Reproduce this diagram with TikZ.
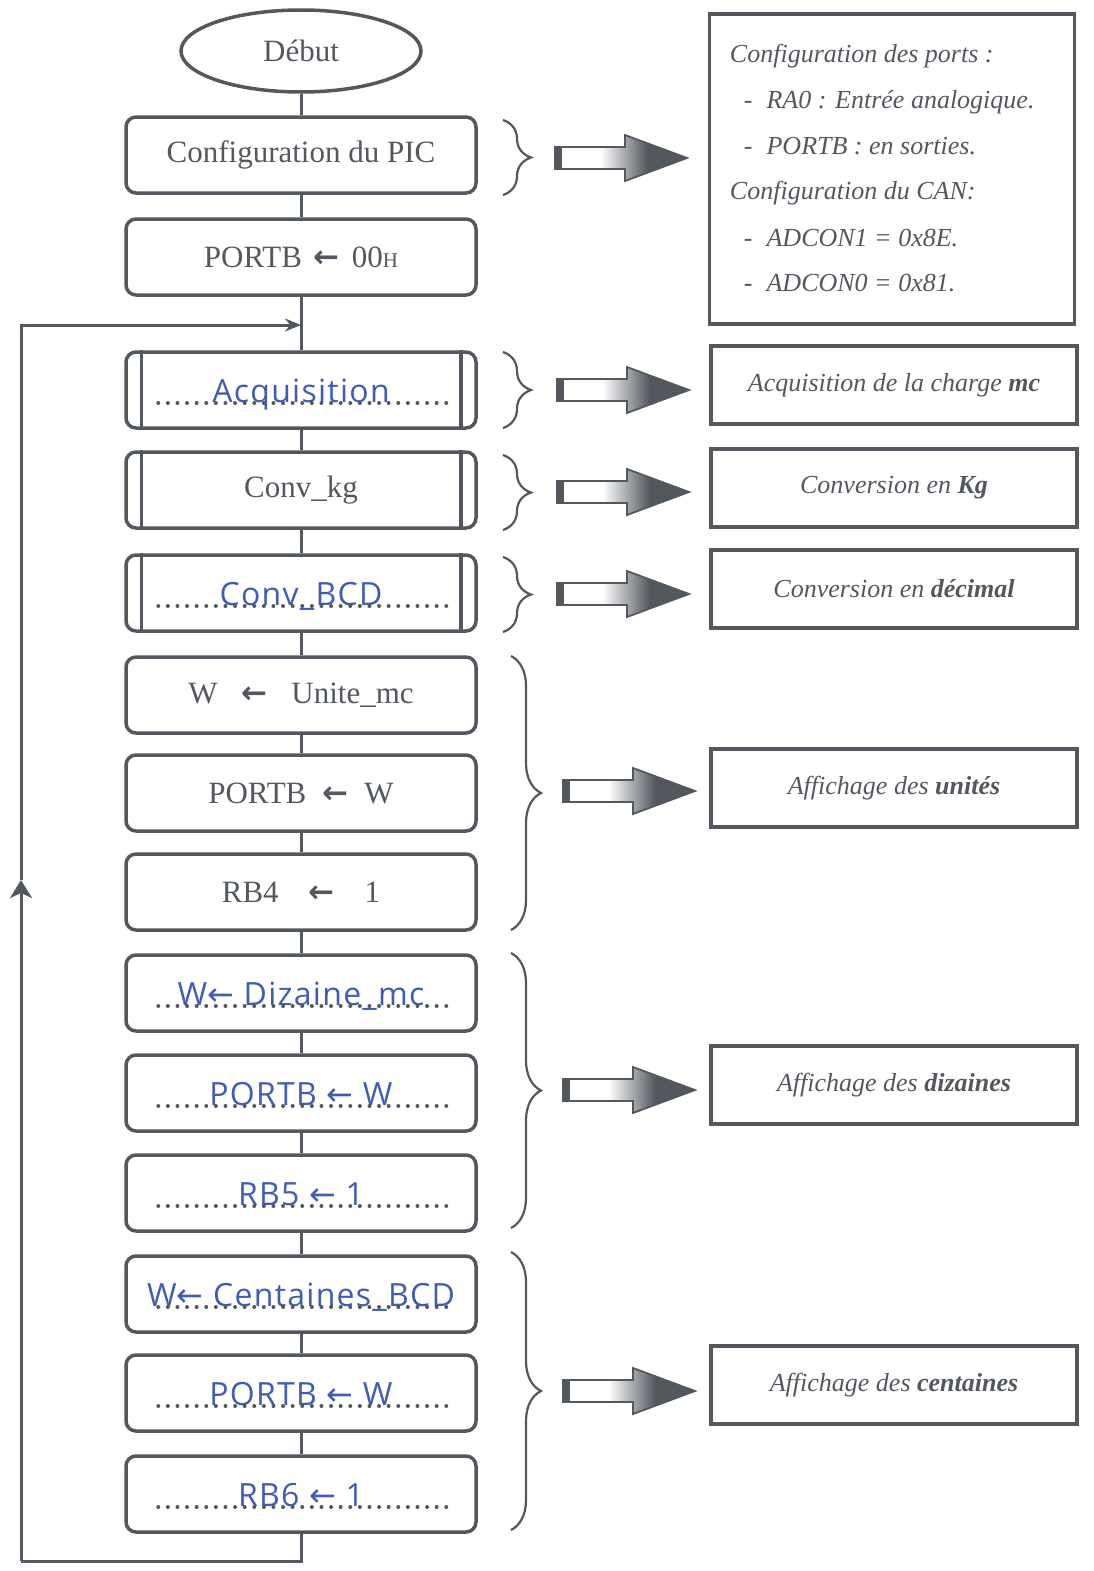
\documentclass[tikz,border=0pt]{standalone}
\usepackage{fontspec}
\setmainfont{Liberation Serif}
\newfontfamily\handfont{Open Sans}[LetterSpace=4]
\newfontfamily\arrowfont{DejaVu Sans}
\usetikzlibrary{arrows.meta,positioning,shapes.geometric,decorations.pathreplacing,calc}

\definecolor{inkgray}{HTML}{53585F}
\definecolor{penblue}{HTML}{3F5DB3}
\colorlet{arrowmid}{inkgray!55}
\pgfdeclarehorizontalshading{arrowshade}{100bp}{color(0bp)=(white); color(42bp)=(white); color(52bp)=(arrowmid); color(60bp)=(inkgray); color(100bp)=(inkgray)}

\newcommand\garr{{\arrowfont\bfseries ←}}
\newcommand\parr{{\arrowfont ←}}

\begin{document}
\begin{tikzpicture}[x=1pt,y=-1pt,
  every node/.style={text=inkgray},
  flow/.style={draw=inkgray, line width=3.5pt, rounded corners=10pt, fill=white,
               minimum width=350pt, minimum height=76pt,
               font=\fontsize{31}{36}\selectfont},
  startend/.style={draw=inkgray, line width=3.5pt, ellipse, fill=white,
                   minimum width=240pt, minimum height=82pt,
                   font=\fontsize{31}{36}\selectfont},
  hand/.style={flow, text=penblue, font=\handfont\fontsize{32}{36}\selectfont,
               text height=24pt, text depth=0pt},
  note/.style={draw=inkgray, line width=3.5pt, minimum width=366pt, minimum height=78pt,
               font=\fontsize{26}{30}\selectfont\itshape},
  conf/.style={anchor=base west, inner sep=0pt, font=\fontsize{26}{30}\selectfont\itshape},
  link/.style={draw=inkgray, line width=3pt},
  dots/.style={draw=inkgray, line width=4pt, line cap=round, dash pattern=on 0pt off 9.6pt},
  grp/.style={draw=inkgray, line width=2.2pt, decorate, decoration={brace, amplitude=#1}},
  fatarrow/.pic={
    \shadedraw[shading=arrowshade, draw=inkgray, line width=1.8pt, line join=miter]
      (0,-11) -- (70,-11) -- (70,-23) -- (132,0) -- (70,23) -- (70,11) -- (0,11) -- cycle;
    \fill[inkgray] (0,-11) rectangle (7,11);
  }
]
  \useasboundingbox[fill=white] (0,0) rectangle (1093,1571);

  % flowchart
  \node[startend] (debut)  at (301,51)   {Début};
  \node[flow]     (config) at (301,155)  {Configuration du PIC};
  \node[flow]     (init)   at (301,257)  {PORTB\hspace{12pt}\garr\hspace{12pt}00{\fontsize{21}{24}\selectfont H}};
  \node[hand]     (acq)    at (301,390)  {Acquisition};
  \node[flow]     (kg)     at (301,490)  {Conv\_kg};
  \node[hand]     (bcd)    at (301,593)  {Conv\_BCD};
  \node[flow]     (u1)     at (301,695)  {W\hspace{24pt}\garr\hspace{24pt}Unite\_mc};
  \node[flow]     (u2)     at (301,793)  {PORTB\hspace{16pt}\garr\hspace{16pt}W};
  \node[flow]     (u3)     at (301,892)  {RB4\hspace{30pt}\garr\hspace{30pt}1};
  \node[hand]     (d1)     at (301,993)  {W\parr\ Dizaine\_mc};
  \node[hand]     (d2)     at (301,1093) {PORTB \parr\ W};
  \node[hand]     (d3)     at (301,1193) {RB5 \parr\ 1};
  \node[hand]     (c1)     at (301,1294) {W\parr\ Centaines\_BCD};
  \node[hand]     (c2)     at (301,1393) {PORTB \parr\ W};
  \node[hand]     (c3)     at (301,1494) {RB6 \parr\ 1};

  \foreach \n in {acq,bcd,d1,d2,d3,c1,c2,c3}
    \draw[dots] ($(\n.west)+(34,13)$) -- ($(\n.east)+(-28,13)$);
  \foreach \n in {acq,kg,bcd} {
    \draw[link, line width=3.5pt] ($(\n.north west)+(17,0)$) -- ($(\n.south west)+(17,0)$);
    \draw[link, line width=3.5pt] ($(\n.north east)+(-17,0)$) -- ($(\n.south east)+(-17,0)$);
  }

  \foreach \a/\b in {debut/config,config/init,init/acq,acq/kg,kg/bcd,bcd/u1,u1/u2,u2/u3,
                     u3/d1,d1/d2,d2/d3,d3/c1,c1/c2,c2/c3}
    \draw[link] (\a) -- (\b);

  % return loop
  \coordinate (bend)    at (301,1561);
  \coordinate (corner1) at (21,1561);
  \coordinate (upmark)  at (21,880);
  \coordinate (corner2) at (21,325);
  \coordinate (join)    at (301,325);
  \draw[link] (c3) -- (bend) -- (corner1);
  \draw[link, -{Stealth[length=18pt,width=22pt,inset=5pt]}] (corner1) -- (upmark);
  \draw[link, line join=miter, -{Stealth[length=16pt,width=13pt]}] (upmark) -- (corner2) -- (join);

  % comments on the right
  \node[note, minimum width=365pt, minimum height=310pt] (cfgnote) at (892,169) {};
  \node[conf] (ports) at ($(cfgnote.north west)+(22,50)$)  {Configuration des ports :};
  \node[conf] (ra0)   at ($(cfgnote.north west)+(36,96)$)  {-\hspace{14pt}RA0 : Entrée analogique.};
  \node[conf] (pb)    at ($(cfgnote.north west)+(36,142)$) {-\hspace{14pt}PORTB : en sorties.};
  \node[conf] (can)   at ($(cfgnote.north west)+(22,187)$) {Configuration du CAN:};
  \node[conf] (adc1)  at ($(cfgnote.north west)+(36,234)$) {-\hspace{14pt}ADCON1 = 0x8E.};
  \node[conf] (adc0)  at ($(cfgnote.north west)+(36,279)$) {-\hspace{14pt}ADCON0 = 0x81.};

  \node[note] (acqnote) at (894,385)  {Acquisition de la charge \textbf{mc}};
  \node[note] (kgnote)  at (894,488)  {Conversion en \textbf{Kg}};
  \node[note] (decnote) at (894,589)  {Conversion en \textbf{décimal}};
  \node[note] (unote)   at (894,788)  {Affichage des \textbf{unités}};
  \node[note] (dnote)   at (894,1085) {Affichage des \textbf{dizaines}};
  \node[note] (cnote)   at (894,1385) {Affichage des \textbf{centaines}};

  % braces and block arrows
  \draw[grp=28pt] (503,120) -- (503,195);
  \draw[grp=28pt] (503,352) -- (503,428);
  \draw[grp=28pt] (503,455) -- (503,530);
  \draw[grp=28pt] (503,557) -- (503,632);
  \draw[grp=30pt] (511,656) -- (511,930);
  \draw[grp=30pt] (511,953) -- (511,1228);
  \draw[grp=30pt] (511,1252) -- (511,1530);

  \pic at (555,158)  {fatarrow};
  \pic at (557,390)  {fatarrow};
  \pic at (557,492)  {fatarrow};
  \pic at (557,594)  {fatarrow};
  \pic at (563,791)  {fatarrow};
  \pic at (563,1090) {fatarrow};
  \pic at (563,1391) {fatarrow};
\end{tikzpicture}
\end{document}
